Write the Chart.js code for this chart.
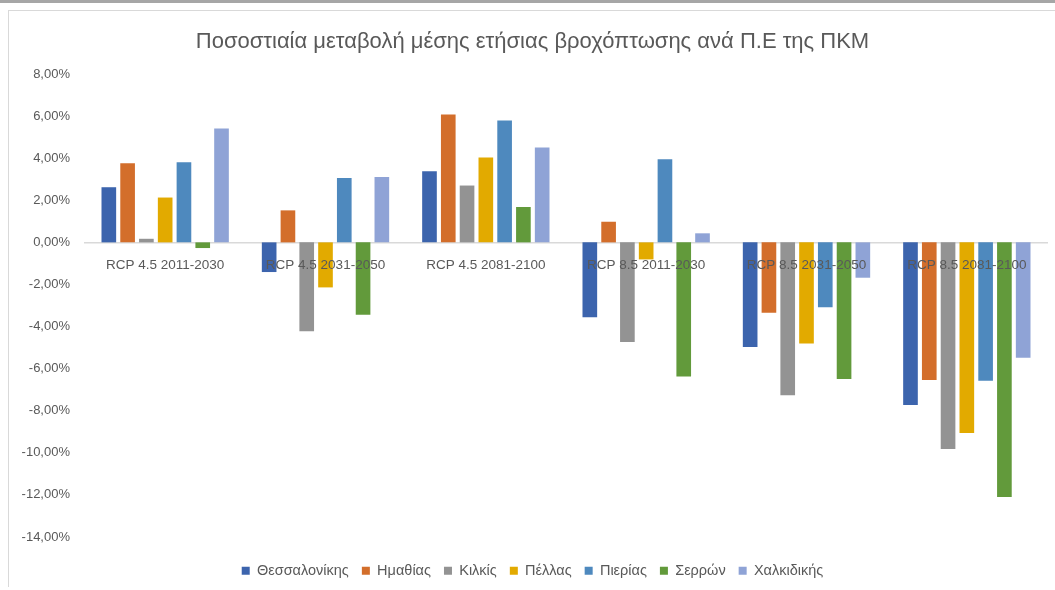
<!DOCTYPE html>
<html>
<head>
<meta charset="utf-8">
<script src="https://cdn.jsdelivr.net/npm/chart.js@4"></script>
<style>
  html, body { margin: 0; padding: 0; background: #fff; }
  body { width: 1055px; height: 590px; position: relative; overflow: hidden; }
  .topbar { position: absolute; left: 0; top: 0; width: 1055px; height: 3px; background: #a6a6a6; }
  .frame { position: absolute; left: 8px; top: 10px; width: 1047px; height: 576px;
           border-left: 1px solid #d9d9d9; border-top: 1px solid #d9d9d9; }
  #wrap { position: absolute; left: 0; top: 0; width: 1055px; height: 590px; }
</style>
</head>
<body>
<div class="topbar"></div>
<div class="frame"></div>
<div id="wrap"><canvas id="barChart"></canvas></div>
<script>
// κατηγορίες (σενάρια) και τιμές ανά Π.Ε. (%)
const scenarios = ['RCP 4.5 2011-2030', 'RCP 4.5 2031-2050', 'RCP 4.5 2081-2100',
                   'RCP 8.5 2011-2030', 'RCP 8.5 2031-2050', 'RCP 8.5 2081-2100'];
const regions = ['Θεσσαλονίκης', 'Ημαθίας', 'Κιλκίς', 'Πέλλας', 'Πιερίας', 'Σερρών', 'Χαλκιδικής'];

const thessalonikis = [2.62, -1.41, 3.38, -3.56, -4.97, -7.73];
const imathias      = [3.76, 1.52, 6.08, 0.98, -3.35, -6.54];
const kilkis        = [0.17, -4.22, 2.70, -4.73, -7.27, -9.82];
const pellas        = [2.13, -2.14, 4.03, -0.81, -4.81, -9.06];
const pierias       = [3.81, 3.06, 5.79, 3.95, -3.08, -6.57];
const serron        = [-0.27, -3.44, 1.68, -6.37, -6.49, -12.10];
const chalkidikis   = [5.41, 3.10, 4.51, 0.43, -1.68, -5.48];

const yMin = -14, yMax = 8, yStep = 2;

const seriesValues = [thessalonikis, imathias, kilkis, pellas, pierias, serron, chalkidikis];
const colors = ['#3c64ad', '#d36e2b', '#939393', '#e2aa00', '#4e89be', '#629a3b', '#8fa3d6'];

const textColor = '#595959';
const fontFamily = "'Liberation Sans', 'DejaVu Sans', sans-serif";

const barCtx = document.getElementById('barChart').getContext('2d');
const barChart = new Chart(barCtx, {
    type: 'bar',
    data: {
        labels: scenarios,
        datasets: regions.map((name, i) => ({
            label: name,
            data: seriesValues[i],
            backgroundColor: colors[i],
            categoryPercentage: 0.82,
            barPercentage: 0.78
        }))
    },
    options: {
        responsive: true,
        maintainAspectRatio: false,
        animation: false,
        layout: {padding: {left: 18, right: 8, top: 0, bottom: 2}},
        scales: {
            x: {
                position: {y: 0},
                grid: {display: false},
                border: {color: '#d9d9d9', width: 1.5},
                // labels drawn over the bars, as in the original
                ticks: {z: 1, color: textColor, font: {family: fontFamily, size: 13.5}, padding: 7, maxRotation: 0}
            },
            xPad: {
                type: 'category',
                position: 'bottom',
                grid: {display: false},
                border: {display: false},
                ticks: {display: false},
                afterFit: (scale) => { scale.height = 13.5; }
            },
            y: {
                min: yMin,
                max: yMax,
                grid: {display: false, drawTicks: false},
                border: {display: false},
                ticks: {
                    stepSize: yStep,
                    padding: 15,
                    color: textColor,
                    font: {family: fontFamily, size: 13},
                    callback: (v) => v.toFixed(2).replace('.', ',') + '%'
                },
                afterFit: (scale) => { scale.width = 67; }
            }
        },
        plugins: {
            title: {
                display: true,
                text: 'Ποσοστιαία μεταβολή μέσης ετήσιας βροχόπτωσης ανά Π.Ε της ΠΚΜ',
                color: textColor,
                font: {family: fontFamily, size: 22, weight: 'normal'},
                padding: {top: 29, bottom: 18.6}
            },
            legend: {
                position: 'bottom',
                labels: {
                    color: textColor,
                    font: {family: fontFamily, size: 14.5},
                    boxWidth: 8,
                    boxHeight: 8,
                    padding: 13
                }
            },
            tooltip: {enabled: false}
        }
    }
});
</script>
</body>
</html>
